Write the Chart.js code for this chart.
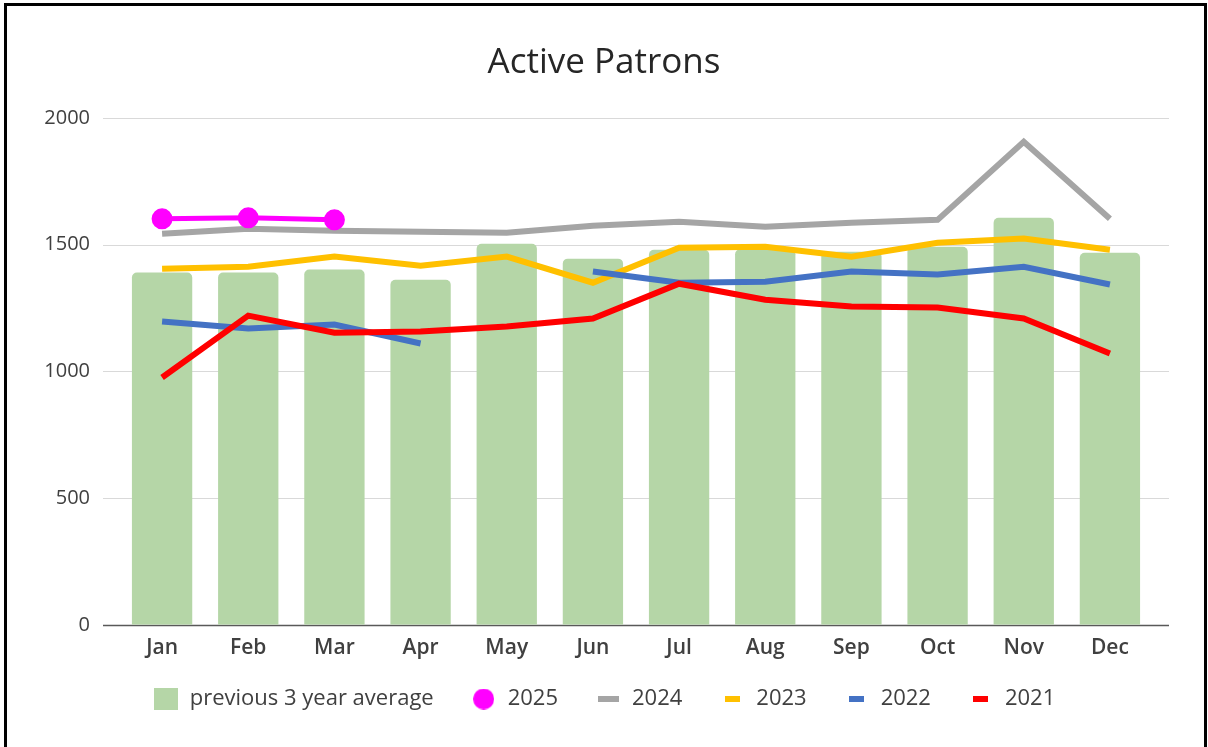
<html>
<head>
  <meta charset="utf-8" />
  <title>Active Patrons</title>
  <style>
    body { margin: 0; background: #fff; }
    #wrap { position: absolute; left: 0; top: 0; width: 1208px; height: 747px; }
    #frame { position: absolute; left: 4px; top: 3px; width: 1203px; height: 800px;
             box-sizing: border-box; border: 3px solid #000; border-bottom: none; pointer-events: none; }
  </style>
</head>
<body>
<div id="wrap">
  <canvas id="patrons_chart" width="1208" height="747"></canvas>
  <div id="frame"></div>
</div>

<script src="https://cdn.jsdelivr.net/npm/chart.js"></script>
<script>

// values
months = ["Jan", "Feb", "Mar", "Apr", "May", "Jun", "Jul", "Aug", "Sep", "Oct", "Nov", "Dec"];
avg3yr = [1390, 1390, 1402, 1362, 1504, 1445, 1480, 1482, 1472, 1492, 1606, 1468];
y2025 = [1602, 1606, 1598, null, null, null, null, null, null, null, null, null];
y2024 = [1543, 1563, 1555, 1551, 1547, 1575, 1591, 1571, 1587, 1598, 1906, 1602];
y2023 = [1405, 1413, 1453, 1417, 1453, 1350, 1488, 1492, 1453, 1508, 1524, 1480];
y2022 = [1197, 1169, 1185, 1110, null, 1394, 1350, 1354, 1394, 1382, 1413, 1343];
y2021 = [976, 1220, 1153, 1157, 1177, 1209, 1346, 1283, 1256, 1252, 1209, 1071];
yTicks = [0, 500, 1000, 1500, 2000];

const FONT = '"Open Sans", sans-serif';
const TEXT = '#404040';

// little canvases used as legend swatches
function swatch(w, h, color, round) {
  var c = document.createElement('canvas');
  c.width = w; c.height = h;
  var g = c.getContext('2d');
  g.fillStyle = color;
  if (round) {
    g.beginPath();
    g.arc(w / 2, h / 2, Math.min(w, h) / 2, 0, Math.PI * 2);
    g.fill();
  } else {
    g.fillRect(0, 0, w, h);
  }
  return c;
}

var legendSwatches = [
  swatch(24, 22, '#b5d6a7'),
  swatch(21, 21, '#ff00ff', true),
  swatch(21, 6, '#a5a5a5'),
  swatch(15, 6, '#ffc000'),
  swatch(15, 6, '#4472c4'),
  swatch(15, 6, '#ff0000')
];

// horizontal grid lines that run a bit past the plot, like the original
var gridPlugin = {
  id: 'widegrid',
  afterLayout(chart) {
    // legend padding is wide for the horizontal gaps; pull the row back up
    chart.legend.top -= 21;
    chart.legend.bottom -= 21;
  },
  beforeDatasetsDraw(chart) {
    var ctx = chart.ctx, area = chart.chartArea, y = chart.scales.y;
    ctx.save();
    y.ticks.forEach(function (t) {
      var py = Math.round(y.getPixelForValue(t.value)) + 0.5;
      ctx.beginPath();
      ctx.lineWidth = t.value === 0 ? 1.5 : 1.2;
      ctx.strokeStyle = t.value === 0 ? '#595959' : '#d9d9d9';
      ctx.moveTo(area.left - 16, py);
      ctx.lineTo(area.right + 16, py);
      ctx.stroke();
    });
    ctx.restore();
  }
};

function lineSet(label, data, color, order) {
  return {
    type: 'line',
    label: label,
    data: data,
    borderColor: color,
    backgroundColor: color,
    borderWidth: 6,
    pointRadius: 0,
    tension: 0,
    spanGaps: false,
    order: order
  };
}

var ctx = document.getElementById('patrons_chart');

var data = {
  labels: months,
  datasets: [
    {
      type: 'bar',
      label: 'previous 3 year average',
      data: avg3yr,
      backgroundColor: '#b5d6a7',
      borderRadius: { topLeft: 5, topRight: 5 },
      borderSkipped: 'bottom',
      barPercentage: 0.7,
      categoryPercentage: 1,
      order: 10
    },
    {
      type: 'line',
      label: '2025',
      data: y2025,
      borderColor: '#ff00ff',
      backgroundColor: '#ff00ff',
      borderWidth: 5,
      pointRadius: 8,
      pointHoverRadius: 8,
      tension: 0,
      order: 1
    },
    lineSet('2024', y2024, '#a5a5a5', 5),
    lineSet('2023', y2023, '#ffc000', 4),
    lineSet('2022', y2022, '#4472c4', 3),
    lineSet('2021', y2021, '#ff0000', 2)
  ]
};

var options = {
  responsive: false,
  animation: false,
  layout: { padding: { top: 0, left: 0, right: 0, bottom: 6 } },
  plugins: {
    title: {
      display: true,
      text: 'Active Patrons',
      color: '#262626',
      font: { family: FONT, size: 35, weight: 'normal' },
      padding: { top: 42, bottom: 34 }
    },
    legend: {
      position: 'bottom',
      labels: {
        color: TEXT,
        font: { family: FONT, size: 22 },
        usePointStyle: true,
        pointStyleWidth: 26,
        boxHeight: 22,
        padding: 37,
        generateLabels: function (chart) {
          return chart.data.datasets.map(function (ds, i) {
            return {
              text: ds.label,
              pointStyle: legendSwatches[i],
              fillStyle: ds.backgroundColor,
              strokeStyle: ds.backgroundColor,
              lineWidth: 0,
              hidden: false,
              datasetIndex: i,
              fontColor: TEXT
            };
          });
        }
      }
    },
    tooltip: { enabled: false }
  },
  scales: {
    x: {
      offset: true,
      grid: { display: false, drawTicks: false },
      border: { display: false },
      ticks: { color: TEXT, padding: 11, font: { family: FONT, size: 21, weight: '600' } }
    },
    y: {
      min: 0,
      max: 2000,
      grid: { display: false, drawTicks: false },
      border: { display: false },
      afterBuildTicks: function (scale) {
        scale.ticks = yTicks.map(function (v) { return { value: v }; });
      },
      afterFit: function (scale) { scale.width = 119; },
      ticks: {
        color: TEXT,
        padding: 29,
        font: { family: FONT, size: 20 },
        callback: function (v) { return String(v); }
      }
    },
    // empty axis on the right, only to keep the plot clear of the frame
    side: {
      position: 'right',
      display: true,
      grid: { display: false, drawTicks: false },
      border: { display: false },
      ticks: { display: false },
      afterFit: function (scale) { scale.width = 55; }
    }
  }
};

var patrons_chart = new Chart(ctx, {
  data: data,
  options: options,
  plugins: [gridPlugin]
});

</script>
</body>
</html>
